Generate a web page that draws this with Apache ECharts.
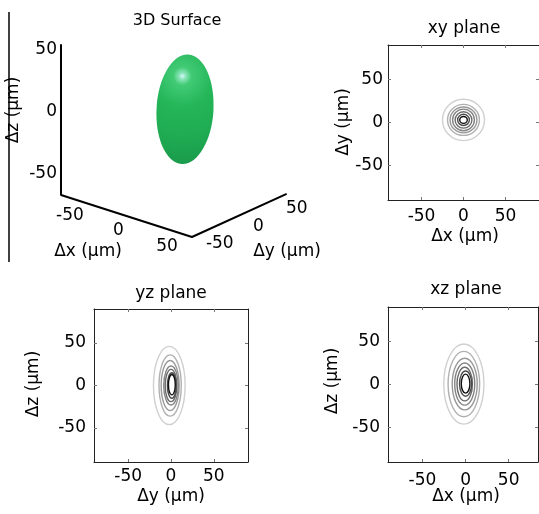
<!DOCTYPE html>
<html><head><meta charset="utf-8">
<script src="https://cdn.jsdelivr.net/npm/echarts@6/dist/echarts.min.js"></script>
<style>html,body{margin:0;padding:0;background:#fff}#c{width:539px;height:514px}</style>
</head><body><div id="c"></div><script>
// ---------- data ----------
const ticks3D = [-50, 0, 50];
const planeTicks = [-50, 0, 50];
const xRange3D = [-67.5, 67.5];
const yRange3D = [-61.5, 61.5];
const zRange3D = [-67, 54];
const blobCenter = [6, 7, 1];
const blobSemiAxes = [23, 23, 44];

const levelColors = ['#d0d0d0', '#b0b0b0', '#999999', '#848484', '#6c6c6c', '#4c4c4c', '#111111'];

// xy plane contours (centre x, centre y, half-width x, half-height y)
const xyCx = [0, 0, 0, 0, 0, 0, 0];
const xyCy = [3, 3, 3, 3, 3, 3, 3];
const xyRx = [25, 19, 16, 13, 10, 7, 4.5];
const xyRy = [24, 18, 15, 12.5, 9.5, 6.5, 4];
// yz plane contours
const yzCy = [-2, -1, -1, 0, 0, 1, 1];
const yzCz = [0, 0, 0, 0, 0, 0, 1];
const yzRy = [18.5, 13, 10.5, 8.5, 6.8, 5.2, 4];
const yzRz = [46, 36, 29.5, 23, 19, 15, 12];
// xz plane contours
const xzCx = [-2, -2, -1, -1, -1, 0, 0];
const xzCz = [0.5, 0.5, 0.5, 0.5, 0.5, 1, 1];
const xzRx = [23.3, 18.3, 14.5, 11.6, 9, 7, 5];
const xzRz = [46.5, 38, 30, 24.5, 19.5, 14.6, 11];

// ---------- layout / projection ----------
const FONT = 'DejaVu Sans';
const corner = [61, 195];
const ex = [0.97, 0.311], ey = [0.77, -0.35], ez = [0, -1.245];
function P(x, y, z) {
  const dx = x - xRange3D[0], dy = y - yRange3D[0], dz = z - zRange3D[0];
  return [corner[0] + dx * ex[0] + dy * ey[0] + dz * ez[0],
          corner[1] + dx * ex[1] + dy * ey[1] + dz * ez[1]];
}

function contourRows(cx, cy, rx, ry) {
  return rx.map((r, i) => [cx[i], cy[i], r, ry[i], i]);
}

const chart = echarts.init(document.getElementById('c'), null, {renderer: 'canvas'});

const grids = [
  {left: 0, top: 0, width: 330, height: 270},
  {left: 388, top: 45, width: 155, height: 155},
  {left: 94, top: 309, width: 154, height: 153},
  {left: 388, top: 307, width: 150, height: 155}
];

const xAxes = [{gridIndex: 0, type: 'value', min: 0, max: 330, show: false}];
const yAxes = [{gridIndex: 0, type: 'value', min: 0, max: 270, inverse: true, show: false}];

const lineStyleBox = {color: '#222', width: 1};
function planeAxes(g, xmin, xmax, labMarginX, labMarginY) {
  const common = {
    gridIndex: g, type: 'value', splitLine: {show: false},
    axisLine: {show: true, onZero: false, lineStyle: lineStyleBox},
    axisTick: {show: true, inside: true, length: 3, customValues: planeTicks, lineStyle: {color: '#777'}}
  };
  const lab = (m) => ({show: true, customValues: planeTicks, margin: m, fontFamily: FONT, fontSize: 17, color: '#000'});
  xAxes.push(Object.assign({}, common, {position: 'bottom', min: xmin, max: xmax, axisLabel: lab(labMarginX)}));
  xAxes.push(Object.assign({}, common, {position: 'top', min: xmin, max: xmax, axisLabel: {show: false}}));
  yAxes.push(Object.assign({}, common, {position: 'left', min: -90, max: 90, axisLabel: lab(labMarginY)}));
  yAxes.push(Object.assign({}, common, {position: 'right', min: -90, max: 90, axisLabel: {show: false}}));
}
planeAxes(1, -90, 90, 8, 5);
planeAxes(2, -90, 90, 6, 8);
planeAxes(3, -90, 84, 10, 8);

function contourSeries(axisIdx, rows) {
  return {
    type: 'custom', xAxisIndex: axisIdx, yAxisIndex: axisIdx, silent: true, clip: true,
    data: rows,
    renderItem: function (params, api) {
      const c = api.coord([api.value(0), api.value(1)]);
      const s = api.size([api.value(2), api.value(3)]);
      return {
        type: 'ellipse',
        shape: {cx: c[0], cy: c[1], rx: s[0], ry: s[1]},
        style: {fill: null, stroke: levelColors[api.value(4)], lineWidth: 1.4}
      };
    }
  };
}

function tickLabelSeries(rows, offset, align) {
  return {
    type: 'scatter', xAxisIndex: 0, yAxisIndex: 0, silent: true,
    symbolSize: 1, itemStyle: {color: 'rgba(0,0,0,0)'},
    data: rows,
    label: {
      show: true, position: 'inside', offset: offset, align: align, verticalAlign: 'middle',
      formatter: p => String(p.value[2]), fontFamily: FONT, fontSize: 17,
      color: '#000', textBorderWidth: 0, textBorderColor: 'transparent', opacity: 1
    }
  };
}

const axisPath = [
  P(xRange3D[0], yRange3D[0], zRange3D[1]),
  P(xRange3D[0], yRange3D[0], zRange3D[0]),
  P(xRange3D[1], yRange3D[0], zRange3D[0]),
  P(xRange3D[1], yRange3D[1], zRange3D[0])
];

const series = [
  {type: 'line', xAxisIndex: 0, yAxisIndex: 0, silent: true, symbol: 'none',
   lineStyle: {color: '#000', width: 2}, data: axisPath},
  tickLabelSeries(ticks3D.map(t => P(t, yRange3D[0], zRange3D[0]).concat([t])), [-8, 15], 'center'),
  tickLabelSeries(ticks3D.map(t => P(xRange3D[1], t, zRange3D[0]).concat([t])), [19, 11], 'center'),
  tickLabelSeries(ticks3D.map(t => P(xRange3D[0], yRange3D[0], t).concat([t])), [-4, 0], 'right'),
  {
    type: 'custom', xAxisIndex: 0, yAxisIndex: 0, silent: true,
    data: [blobCenter.concat(blobSemiAxes)],
    renderItem: function (params, api) {
      const p = P(api.value(0), api.value(1), api.value(2));
      const c = api.coord(p);
      const a = api.value(3), b = api.value(4), cz = api.value(5);
      const rx = Math.hypot(a * ex[0], b * ey[0]);
      const ry = Math.abs(cz * ez[1]);
      return {
        type: 'ellipse', x: c[0], y: c[1], rotation: -0.06,
        shape: {cx: 0, cy: 0, rx: rx, ry: ry},
        style: {
          fill: new echarts.graphic.RadialGradient(0.42, 0.2, 1.8, [
            {offset: 0, color: '#d8f6ff'},
            {offset: 0.03, color: '#8ee6bc'},
            {offset: 0.09, color: '#40ca74'},
            {offset: 0.3, color: '#25b659'},
            {offset: 0.6, color: '#1fab52'},
            {offset: 0.85, color: '#1a9c4c'},
            {offset: 1, color: '#168f46'}
          ]),
          stroke: null
        }
      };
    }
  },
  contourSeries(1, contourRows(xyCx, xyCy, xyRx, xyRy)),
  contourSeries(3, contourRows(yzCy, yzCz, yzRy, yzRz)),
  contourSeries(5, contourRows(xzCx, xzCz, xzRx, xzRz))
];

function txt(text, x, y, size, rot) {
  return {type: 'text', x: x, y: y, rotation: rot || 0, silent: true,
    style: {text: text, font: size + 'px "' + FONT + '"', fill: '#000', textAlign: 'center', textVerticalAlign: 'middle'}};
}

const graphics = [
  {type: 'line', silent: true, shape: {x1: 9, y1: 12, x2: 9, y2: 262}, style: {stroke: '#000', lineWidth: 1.5}},
  txt('3D Surface', 177, 21, 16),
  txt('xy plane', 464, 29, 17),
  txt('yz plane', 171, 294, 17),
  txt('xz plane', 466, 290, 17),
  txt('Δx (μm)', 88, 252, 17),
  txt('Δy (μm)', 287, 252, 17),
  txt('Δz (μm)', 14, 110, 17, Math.PI / 2),
  txt('Δx (μm)', 465, 237, 17),
  txt('Δy (μm)', 344, 122, 17, Math.PI / 2),
  txt('Δy (μm)', 171, 497, 17),
  txt('Δz (μm)', 34, 384, 17, Math.PI / 2),
  txt('Δx (μm)', 466, 497, 17),
  txt('Δz (μm)', 333, 381, 17, Math.PI / 2)
];

chart.setOption({
  animation: false,
  backgroundColor: '#fff',
  grid: grids,
  xAxis: xAxes,
  yAxis: yAxes,
  series: series,
  graphic: graphics
});
</script></body></html>
